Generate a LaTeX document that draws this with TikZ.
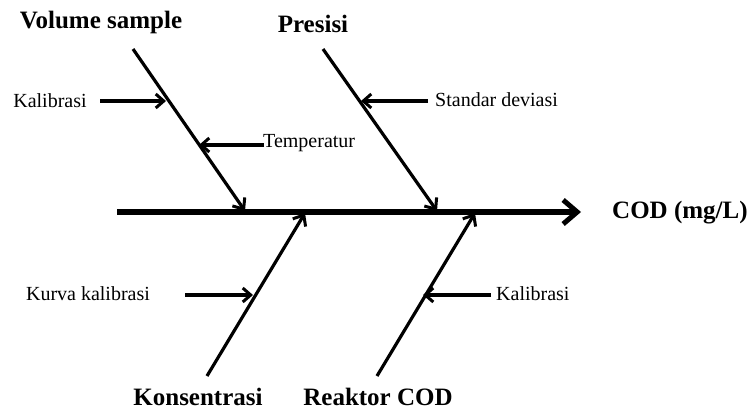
\documentclass[tikz,border=0pt]{standalone}
\usepackage{fontspec}
\setmainfont{Liberation Serif}
\usetikzlibrary{arrows.meta}
\begin{document}
\begin{tikzpicture}[x=1pt,y=-1pt,
  title/.style={font=\bfseries\fontsize{25}{28}\selectfont,inner sep=0pt},
  lbl/.style={font=\fontsize{20}{23}\selectfont,inner sep=0pt},
  bone/.style={line width=3.2pt,-{Straight Barb[length=9pt,width=15pt,line width=3pt]}},
  sub/.style={line width=3.2pt,-{Straight Barb[length=8pt,width=14pt,line width=3pt]}},
  spine/.style={line width=6pt,-{Straight Barb[length=14pt,width=24pt,line width=5pt]}}]
\useasboundingbox (0,0) rectangle (752,410);
% spine
\coordinate (s0) at (117,212);
\node[title,anchor=west] (cod) at (612,213) {COD (mg/L)};
\coordinate (s1) at (581,212);
\draw[spine] (s0) -- (s1);
% Volume sample
\node[title] (vs) at (101,22) {Volume sample};
\coordinate (vst) at (133,49);
\coordinate (vsb) at (245,211);
\draw[bone] (vst) -- (vsb);
\node[lbl] (k1) at (50,101) {Kalibrasi};
\coordinate (k1a) at (100,101);
\coordinate (k1b) at (166,101);
\draw[sub] (k1a) -- (k1b);
\node[lbl,anchor=west] (tp) at (263,143) {Temperatur};
\coordinate (tpa) at (264,145);
\coordinate (tpb) at (199,145);
\draw[sub] (tpa) -- (tpb);
% Presisi
\node[title] (pr) at (313,24) {Presisi};
\coordinate (prt) at (323,49);
\coordinate (prb) at (437,211);
\draw[bone] (prt) -- (prb);
\node[lbl,anchor=west] (sd) at (435,100) {Standar deviasi};
\coordinate (sda) at (428,101);
\coordinate (sdb) at (361,101);
\draw[sub] (sda) -- (sdb);
% Konsentrasi
\node[title] (ko) at (198,397) {Konsentrasi};
\coordinate (kob) at (207,376);
\coordinate (kot) at (305,213);
\draw[bone] (kob) -- (kot);
\node[lbl] (kk) at (88,294) {Kurva kalibrasi};
\coordinate (kka) at (185,295);
\coordinate (kkb) at (253,295);
\draw[sub] (kka) -- (kkb);
% Reaktor COD
\node[title] (rc) at (378,397) {Reaktor COD};
\coordinate (rcb) at (377,376);
\coordinate (rct) at (475,213);
\draw[bone] (rcb) -- (rct);
\node[lbl,anchor=west] (k2) at (496,294) {Kalibrasi};
\coordinate (k2a) at (491,295);
\coordinate (k2b) at (423,295);
\draw[sub] (k2a) -- (k2b);
\end{tikzpicture}
\end{document}
